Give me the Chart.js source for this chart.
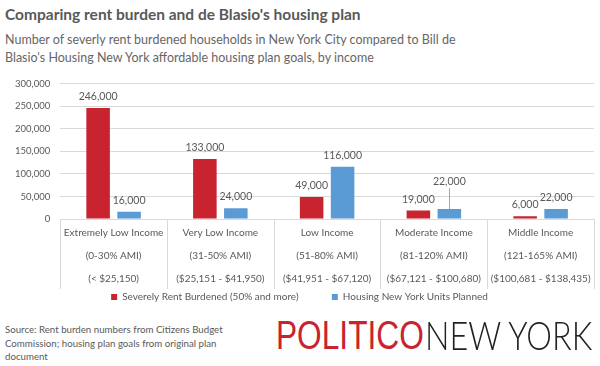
<!DOCTYPE html>
<html>
<head>
<meta charset="utf-8">
<script src="https://cdn.jsdelivr.net/npm/chart.js@4/dist/chart.umd.min.js"></script>
<style>
  body { margin: 0; width: 600px; height: 366px; background: #fff; overflow: hidden; position: relative; font-family: Lato, sans-serif; }
  #title { position: absolute; left: 5px; top: 5px; font-weight: bold; font-size: 15.5px; color: #595959; white-space: nowrap; }
  #subtitle { position: absolute; left: 5px; top: 31px; font-size: 12.5px; line-height: 18px; color: #666; white-space: nowrap; }
  #wrap { position: absolute; left: 0; top: 68px; width: 600px; height: 244px; }
  #source { position: absolute; left: 5px; top: 323px; font-size: 9.7px; line-height: 13.5px; color: #595959; white-space: nowrap; }
  .logo { position: absolute; top: 313px; font-size: 40px; line-height: 44px; white-space: nowrap; transform-origin: 0 0; }
  #logoP { left: 276px; font-family: 'Liberation Sans', sans-serif; color: #c8232f; }
  #logoN { left: 425px; font-family: Lato, sans-serif; font-weight: 300; color: #222; }
</style>
</head>
<body>
<div id="title">Comparing rent burden and de Blasio's housing plan</div>
<div id="subtitle">Number of severly rent burdened households in New York City compared to Bill de<br>Blasio's Housing New York affordable housing plan goals, by income</div>
<div id="wrap"><canvas id="chart"></canvas></div>
<div id="source">Source: Rent burden numbers from Citizens Budget<br>Commission; housing plan goals from original plan<br>document</div>
<div id="logoP" class="logo">POLITICO</div>
<div id="logoN" class="logo">NEW YORK</div>
<script>
const categories = [
  ['Extremely Low Income', '(0-30% AMI)', '(< $25,150)'],
  ['Very Low Income', '(31-50% AMI)', '($25,151 - $41,950)'],
  ['Low Income', '(51-80% AMI)', '($41,951 - $67,120)'],
  ['Moderate Income', '(81-120% AMI)', '($67,121 - $100,680)'],
  ['Middle Income', '(121-165% AMI)', '($100,681 - $138,435)'],
];
const rentBurdened = [246000, 133000, 49000, 19000, 6000];
const unitsPlanned = [16000, 24000, 116000, 22000, 22000];
const yMax = 300000;
const yStep = 50000;

// squeeze the logo words to the widths in the original
function fitWidth(id, target) {
  const el = document.getElementById(id);
  el.style.transform = 'scaleX(' + target / el.offsetWidth + ')';
}
fitWidth('logoP', 148);
fitWidth('logoN', 167);

const ctx = document.getElementById('chart');
const textColor = '#595959';
const fmt = (v) => v.toLocaleString('en-US');

// value labels above bars, one of them lifted with a leader line
const valueLabels = {
  id: 'valueLabels',
  afterDatasetsDraw(chart, args, opts) {
    const c = chart.ctx;
    c.save();
    c.font = '10.5px Lato';
    c.fillStyle = textColor;
    c.textAlign = 'center';
    c.textBaseline = 'bottom';
    chart.data.datasets.forEach((ds, di) => {
      chart.getDatasetMeta(di).data.forEach((bar, i) => {
        const lift = (opts.lifted[di] && opts.lifted[di][i]) || 0;
        const y = bar.y - 6 - lift;
        if (lift) {
          c.strokeStyle = '#a6a6a6';
          c.lineWidth = 1;
          c.beginPath();
          c.moveTo(Math.round(bar.x) + 0.5, y + 1);
          c.lineTo(Math.round(bar.x) + 0.5, bar.y);
          c.stroke();
        }
        c.fillText(fmt(ds.data[i]), bar.x, y);
      });
    });
    c.restore();
  },
};

// category dividers below the axis
const dividers = {
  id: 'dividers',
  afterDraw(chart) {
    const x = chart.scales.x;
    const c = chart.ctx;
    const n = chart.data.labels.length;
    const bottom = chart.chartArea.bottom;
    c.save();
    c.strokeStyle = '#d9d9d9';
    c.lineWidth = 1;
    for (let i = 0; i <= n; i++) {
      const px = Math.round(x.left + (i * x.width) / n) + 0.5;
      c.beginPath();
      c.moveTo(px, bottom);
      c.lineTo(px, bottom + 70);
      c.stroke();
    }
    c.restore();
  },
};

new Chart(ctx, {
  type: 'bar',
  data: {
    labels: categories,
    datasets: [
      {
        label: 'Severely Rent Burdened (50% and more)',
        data: rentBurdened,
        backgroundColor: '#c8232f',
        categoryPercentage: 0.58,
        barPercentage: 0.76,
      },
      {
        label: 'Housing New York Units Planned',
        data: unitsPlanned,
        backgroundColor: '#5b9bd5',
        categoryPercentage: 0.58,
        barPercentage: 0.76,
      },
    ],
  },
  plugins: [valueLabels, dividers],
  options: {
    responsive: true,
    maintainAspectRatio: false,
    animation: false,
    layout: { padding: { left: 5, right: 6, top: 8, bottom: 0 } },
    plugins: {
      legend: {
        position: 'bottom',
        labels: {
          boxWidth: 6,
          boxHeight: 6,
          padding: 0,
          color: textColor,
          font: { family: 'Lato', size: 10 },
          // wider gap between the two entries without extra vertical padding
          generateLabels(chart) {
            const items = Chart.defaults.plugins.legend.labels.generateLabels(chart);
            items[0].text += '             ';
            return items;
          },
        },
      },
      tooltip: { enabled: false },
      valueLabels: { lifted: { 1: { 3: 16 } } },
    },
    scales: {
      x: {
        grid: { display: false, drawTicks: false },
        border: { display: false },
        ticks: {
          color: textColor,
          font: { family: 'Lato', size: 10, lineHeight: 2.3 },
          padding: 2,
          maxRotation: 0,
          autoSkip: false,
        },
      },
      y: {
        min: 0,
        max: yMax,
        ticks: {
          stepSize: yStep,
          color: textColor,
          font: { family: 'Lato', size: 9.5 },
          padding: 10,
          callback: (v) => fmt(v),
        },
        grid: { color: '#d9d9d9', drawTicks: false },
        border: { display: false },
      },
    },
  },
});
</script>
</body>
</html>
